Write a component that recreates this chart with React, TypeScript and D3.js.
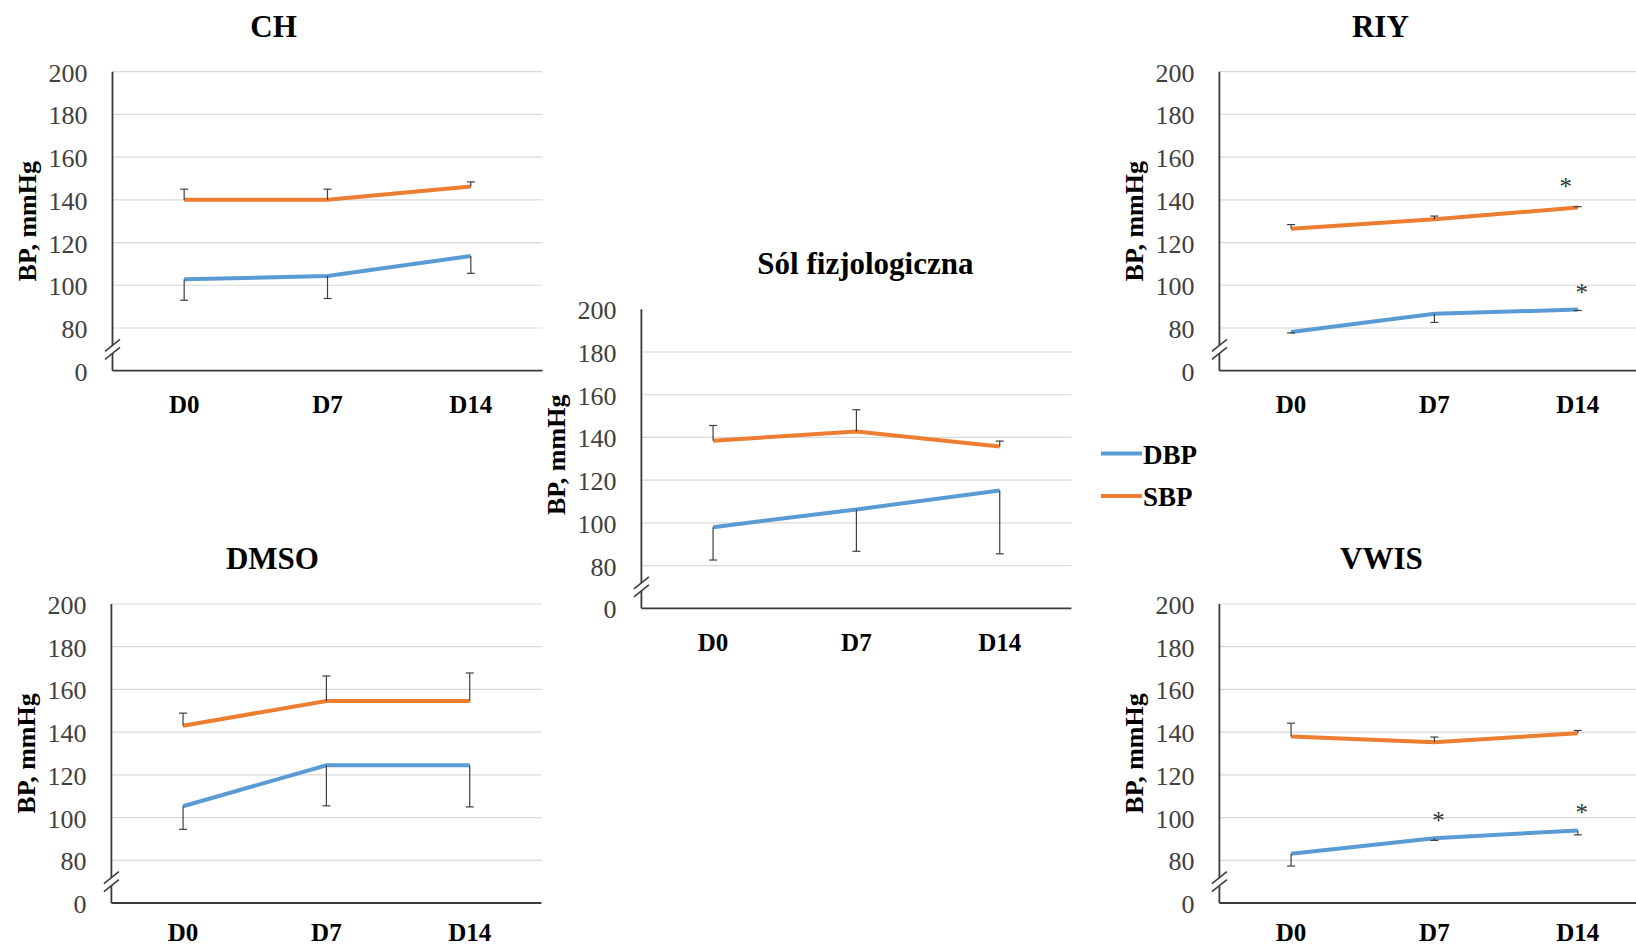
import React from "react";
import * as d3 from "d3";

// ---------- data ----------
const categories = ["D0", "D7", "D14"];
const yTicks = [0, 80, 100, 120, 140, 160, 180, 200];
const seriesNames = ["DBP", "SBP"];

// CH
const chSBP = [140, 140, 146.2];
const chSBPErr = [5, 5, 2.2];
const chDBP = [102.8, 104.3, 113.7];
const chDBPErr = [9.8, 10.5, 8.1];

// Sól fizjologiczna
const solSBP = [138.5, 142.8, 135.8];
const solSBPErr = [7.1, 10.2, 2.5];
const solDBP = [98, 106.3, 115.2];
const solDBPErr = [15.4, 19.6, 29.7];

// RIY
const riySBP = [126.5, 130.9, 136.4];
const riySBPErr = [1.9, 1.5, 0.4];
const riyDBP = [78.1, 86.7, 88.6];
const riyDBPErr = [0.4, 4.1, 0.4];
const riySigSBP = [false, false, true];
const riySigDBP = [false, false, true];

// DMSO
const dmsoSBP = [143, 154.6, 154.6];
const dmsoSBPErr = [5.9, 11.7, 13.1];
const dmsoDBP = [105.3, 124.5, 124.5];
const dmsoDBPErr = [10.8, 19, 19.5];

// VWIS
const vwisSBP = [138, 135.3, 139.5];
const vwisSBPErr = [6.2, 2.4, 1.3];
const vwisDBP = [83.1, 90.3, 94];
const vwisDBPErr = [5.8, 1, 2.1];
const vwisSigSBP = [false, false, false];
const vwisSigDBP = [false, true, true];

const noSig = [false, false, false];

// ---------- style ----------
const BLUE = "#5B9BD5";
const ORANGE = "#ED7D31";
const AXIS = "#3a3a3a";
const GRID = "#d9d9d9";
const FONT = "'Liberation Serif', 'Times New Roman', serif";
const PW = 430;
const PH = 299;

type PanelProps = {
  title: string;
  sbp: number[];
  sbpErr: number[];
  dbp: number[];
  dbpErr: number[];
  sigSBP: boolean[];
  sigDBP: boolean[];
  left: number;
  top: number;
  titleDx: number;
  topGrid: boolean;
  labelDy: number;
  xLabelDy: number;
};

function Panel(p: PanelProps) {
  const x = d3.scaleBand<string>().domain(categories).range([p.left, p.left + PW]);
  const y = d3.scaleLinear().domain([60, 200]).range([p.top + PH, p.top]);
  const yPos = (v: number) => y(Math.max(v, 60));
  const cx = (i: number) => (x(categories[i]) as number) + x.bandwidth() / 2;
  const line = d3
    .line<number>()
    .x((_, i) => cx(i))
    .y((d) => y(d));
  const bottom = p.top + PH;
  const yb = y(70);
  const L = p.left;
  const gridTicks = yTicks.filter((t) => t >= 80 && (p.topGrid || t < 200));

  return (
    <g>
      {/* title */}
      <text
        x={p.left + PW / 2 + p.titleDx}
        y={p.top - 35}
        textAnchor="middle"
        fontFamily={FONT}
        fontWeight="bold"
        fontSize={31}
        fill="#000"
      >
        {p.title}
      </text>
      {/* gridlines */}
      {gridTicks.map((t) => (
        <line key={t} x1={p.left} x2={p.left + PW} y1={yPos(t)} y2={yPos(t)} stroke={GRID} strokeWidth={1.2} />
      ))}
      {/* tick labels */}
      {yTicks.map((t) => (
        <text
          key={"l" + t}
          x={p.left - 25}
          y={yPos(t) + 10}
          textAnchor="end"
          fontFamily={FONT}
          fontSize={26}
          fill="#404040"
        >
          {t}
        </text>
      ))}
      {/* axes */}
      <line x1={L} x2={L} y1={p.top} y2={bottom} stroke={AXIS} strokeWidth={1.8} />
      <line x1={L} x2={p.left + PW} y1={bottom} y2={bottom} stroke={AXIS} strokeWidth={1.8} />
      {/* axis break */}
      <polygon
        points={`${L - 7.5},${yb - 4 + 6} ${L + 7.5},${yb - 4 - 6} ${L + 7.5},${yb + 4 - 6} ${L - 7.5},${yb + 4 + 6}`}
        fill="#fff"
      />
      <line x1={L - 7.5} y1={yb - 4 + 6} x2={L + 7.5} y2={yb - 4 - 6} stroke={AXIS} strokeWidth={1.5} />
      <line x1={L - 7.5} y1={yb + 4 + 6} x2={L + 7.5} y2={yb + 4 - 6} stroke={AXIS} strokeWidth={1.5} />
      {/* y label */}
      <text
        transform={`translate(${p.left - 85},${p.top + PH / 2 + p.labelDy}) rotate(-90)`}
        textAnchor="middle"
        dominantBaseline="central"
        fontFamily={FONT}
        fontWeight="bold"
        fontSize={26}
        fill="#000"
      >
        BP, mmHg
      </text>
      {/* x labels */}
      {categories.map((c, i) => (
        <text
          key={c}
          x={cx(i)}
          y={bottom + p.xLabelDy}
          textAnchor="middle"
          fontFamily={FONT}
          fontWeight="bold"
          fontSize={25}
          fill="#000"
        >
          {c}
        </text>
      ))}
      {/* lines */}
      <path d={line(p.dbp) as string} fill="none" stroke={BLUE} strokeWidth={4} />
      <path d={line(p.sbp) as string} fill="none" stroke={ORANGE} strokeWidth={4} />
      {/* error bars */}
      {p.sbp.map((v, i) => (
        <g key={"es" + i} stroke="#404040" strokeWidth={1.2}>
          <line x1={cx(i)} x2={cx(i)} y1={y(v)} y2={y(v + p.sbpErr[i])} />
          <line x1={cx(i) - 4} x2={cx(i) + 4} y1={y(v + p.sbpErr[i])} y2={y(v + p.sbpErr[i])} />
        </g>
      ))}
      {p.dbp.map((v, i) => (
        <g key={"ed" + i} stroke="#404040" strokeWidth={1.2}>
          <line x1={cx(i)} x2={cx(i)} y1={y(v)} y2={y(v - p.dbpErr[i])} />
          <line x1={cx(i) - 4} x2={cx(i) + 4} y1={y(v - p.dbpErr[i])} y2={y(v - p.dbpErr[i])} />
        </g>
      ))}
      {/* significance marks */}
      {p.sbp.map((v, i) =>
        p.sigSBP[i] ? (
          <text key={"ss" + i} x={cx(i) - 12} y={y(v) - 25 + 12} textAnchor="middle" fontFamily={FONT} fontSize={25} fill="#333">
            *
          </text>
        ) : null
      )}
      {p.dbp.map((v, i) =>
        p.sigDBP[i] ? (
          <text key={"sd" + i} x={cx(i) + 4} y={y(v) - 21 + 12} textAnchor="middle" fontFamily={FONT} fontSize={25} fill="#333">
            *
          </text>
        ) : null
      )}
    </g>
  );
}

export default function App() {
  return (
    <div>
      <style>{"body{margin:0;background:#fff}"}</style>
      <svg width={1636} height={947} style={{ display: "block", background: "#fff" }}>
        <Panel title="CH" sbp={chSBP} sbpErr={chSBPErr} dbp={chDBP} dbpErr={chDBPErr} sigSBP={noSig} sigDBP={noSig}
          left={112.5} top={71.7} titleDx={-54} topGrid={true} labelDy={0} xLabelDy={42.6} />
        <Panel title="Sól fizjologiczna" sbp={solSBP} sbpErr={solSBPErr} dbp={solDBP} dbpErr={solDBPErr} sigSBP={noSig} sigDBP={noSig}
          left={641.4} top={309.3} titleDx={9} topGrid={false} labelDy={-4} xLabelDy={42.6} />
        <Panel title="RIY" sbp={riySBP} sbpErr={riySBPErr} dbp={riyDBP} dbpErr={riyDBPErr} sigSBP={riySigSBP} sigDBP={riySigDBP}
          left={1219.4} top={71.7} titleDx={-54} topGrid={true} labelDy={0} xLabelDy={42.6} />
        <Panel title="DMSO" sbp={dmsoSBP} sbpErr={dmsoSBPErr} dbp={dmsoDBP} dbpErr={dmsoDBPErr} sigSBP={noSig} sigDBP={noSig}
          left={111.4} top={604} titleDx={-54} topGrid={true} labelDy={0} xLabelDy={38} />
        <Panel title="VWIS" sbp={vwisSBP} sbpErr={vwisSBPErr} dbp={vwisDBP} dbpErr={vwisDBPErr} sigSBP={vwisSigSBP} sigDBP={vwisSigDBP}
          left={1219.4} top={604} titleDx={-53} topGrid={true} labelDy={0} xLabelDy={38} />
        {/* legend */}
        {seriesNames.map((s, i) => (
          <g key={s}>
            <line x1={1101} x2={1142} y1={453.5 + i * 42.5} y2={453.5 + i * 42.5} stroke={i === 0 ? BLUE : ORANGE} strokeWidth={4} />
            <text x={1143} y={463.5 + i * 42} fontFamily={FONT} fontWeight="bold" fontSize={27} fill="#000">
              {s}
            </text>
          </g>
        ))}
      </svg>
    </div>
  );
}
